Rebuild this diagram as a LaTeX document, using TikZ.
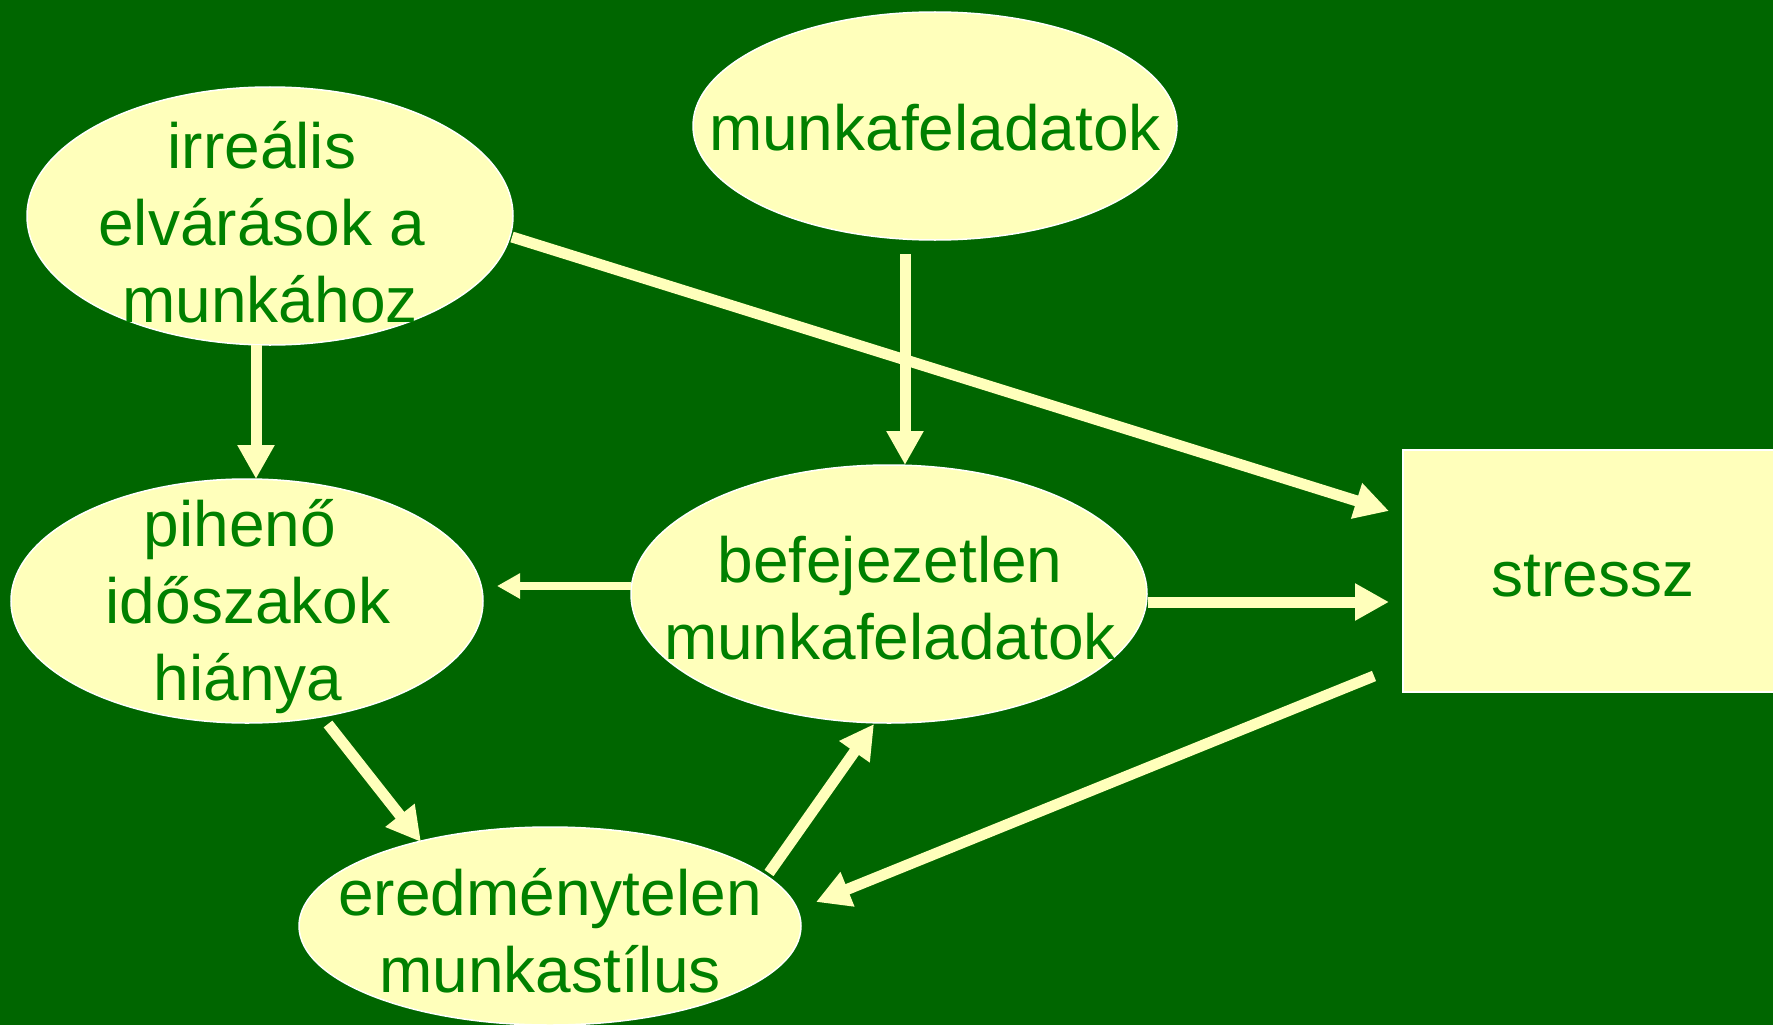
\documentclass[tikz,border=0pt]{standalone}
\usepackage{fontspec}
\setmainfont{Liberation Sans}
\usetikzlibrary{shapes.geometric,arrows.meta}
\definecolor{bggreen}{RGB}{0,102,0}
\definecolor{cream}{RGB}{255,255,187}
\definecolor{txtgreen}{RGB}{0,128,0}
\begin{document}
\begin{tikzpicture}[x=1pt,y=-1pt,
  bubble/.style={ellipse,draw=white,line width=1.5pt,fill=cream,inner sep=0pt},
  caption/.style={text=txtgreen,align=center,inner sep=0pt,
    font=\fontsize{64}{77}\selectfont},
  bigarrow/.style={draw=cream,line width=11pt,
    -{Triangle[length=34pt,width=35pt]}},
  smallarrow/.style={draw=cream,line width=8pt,
    -{Triangle[length=23pt,width=24pt]}}]
  % background
  \fill[bggreen] (0,0) rectangle (1773,1025);
  \useasboundingbox (0,0) rectangle (1773,1025);

  % shapes
  \node[bubble,minimum width=486pt,minimum height=258pt] (irr) at (270,216) {};
  \node[bubble,minimum width=484pt,minimum height=228pt] (mf) at (935,126) {};
  \node[bubble,minimum width=472pt,minimum height=244pt] (pih) at (247,601) {};
  \node[bubble,minimum width=516pt,minimum height=258pt] (bef) at (889,594) {};
  \node[bubble,minimum width=502pt,minimum height=198pt] (ere) at (550,926) {};
  \draw[draw=white,line width=1.5pt,fill=cream] (1776,450) -- (1403,450)
    -- (1403,692) -- (1776,692) -- cycle;
  \coordinate (str) at (1590,571);

  % texts
  \node[caption] (irrT) at (262,222) {irreális\\elvárások a\\\hspace*{16pt}munkához};
  \node[caption] (mfT) at (935,128) {munkafeladatok};
  \node[caption] (pihT) at (248,607) {pihenő\hspace*{16pt}\\időszakok\\hiánya};
  \node[caption] (befT) at (890,598) {befejezetlen\\munkafeladatok};
  \node[caption] (ereT) at (550,931) {eredménytelen\\munkastílus};
  \node[caption] (strT) at (1593,576) {stressz};

  % connector end points
  \coordinate (a1s) at (512,237);  \coordinate (a1e) at (1389,511);
  \coordinate (a2s) at (905,254);  \coordinate (a2e) at (905,465);
  \coordinate (a3s) at (256,345);  \coordinate (a3e) at (256,479);
  \coordinate (a4s) at (631,586);  \coordinate (a4e) at (497,586);
  \coordinate (a5s) at (1148,602); \coordinate (a5e) at (1389,602);
  \coordinate (a6s) at (1374,676); \coordinate (a6e) at (816,902);
  \coordinate (a7s) at (328,724);  \coordinate (a7e) at (421,842);
  \coordinate (a8s) at (769,873);  \coordinate (a8e) at (874,724);

  % connectors
  \draw[bigarrow] (a1s) -- (a1e);
  \draw[bigarrow] (a2s) -- (a2e);
  \draw[bigarrow] (a3s) -- (a3e);
  \draw[smallarrow] (a4s) -- (a4e);
  \draw[bigarrow] (a5s) -- (a5e);
  \draw[bigarrow] (a6s) -- (a6e);
  \draw[bigarrow] (a7s) -- (a7e);
  \draw[bigarrow] (a8s) -- (a8e);
\end{tikzpicture}
\end{document}
